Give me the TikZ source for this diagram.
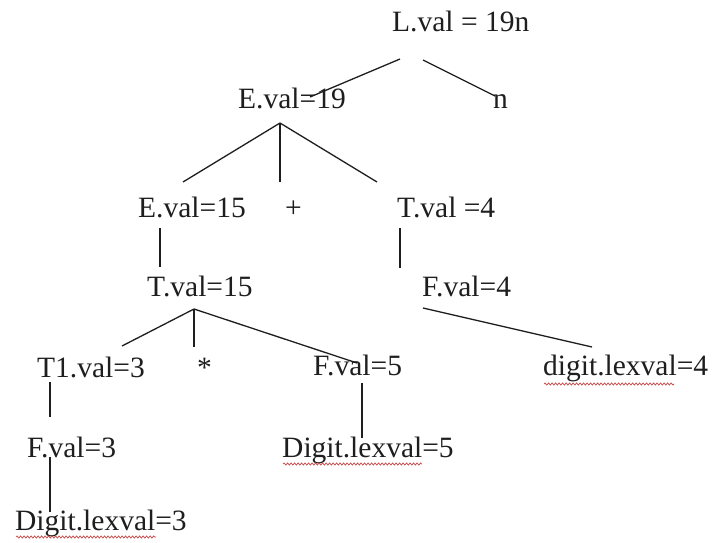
\documentclass[tikz,border=0pt]{standalone}
\usepackage{fontspec}
\setmainfont{Liberation Serif}
\usetikzlibrary{decorations.pathmorphing}
\definecolor{txt}{RGB}{30,30,30}
\definecolor{wavyred}{RGB}{200,70,70}
\begin{document}
\begin{tikzpicture}[x=1pt,y=-1pt,
  lab/.style={anchor=base west,inner sep=0pt,text=txt,font=\fontsize{29.5}{34}\selectfont},
  edge/.style={draw=txt,line width=1.3pt},
  wavy/.style={draw=wavyred,line width=0.7pt,decorate,decoration={snake,amplitude=1.1pt,segment length=3.5pt}}]
\useasboundingbox[fill=white] (0,0) rectangle (712,543);
% nodes
\node[lab] (L)   at (392,32)  {L.val = 19n};
\node[lab] (E19) at (238,108) {E.val=19};
\node[lab] (n)   at (493,108) {n};
\node[lab] (E15) at (138,217) {E.val=15};
\node[lab] (plus) at (285,217) {+};
\node[lab] (T4)  at (397,217) {T.val =4};
\node[lab] (T15) at (147,296) {T.val=15};
\node[lab] (F4)  at (422,296) {F.val=4};
\node[lab] (T1)  at (37,377)  {T1.val=3};
\node[lab] (star) at (197,377) {*};
\node[lab] (F5)  at (313,375) {F.val=5};
\node[lab] (d4)  at (543,375) {digit.lexval=4};
\node[lab] (F3)  at (27,457)  {F.val=3};
\node[lab] (D5)  at (282,457) {Digit.lexval=5};
\node[lab] (D3)  at (15,530)  {Digit.lexval=3};
% connectors
\draw[edge] ([shift={(8,27)}]L.base west) -- ([shift={(72,-11)}]E19.base west);
\draw[edge] ([shift={(31,28)}]L.base west) -- ([shift={(2,-12)}]n.base west);
\draw[edge] ([shift={(42,15)}]E19.base west) -- ([shift={(45,-35)}]E15.base west);
\draw[edge] ([shift={(42,15)}]E19.base west) -- ([shift={(-5,-35)}]plus.base west);
\draw[edge] ([shift={(42,15)}]E19.base west) -- ([shift={(-20,-35)}]T4.base west);
\draw[edge] ([shift={(22,11)}]E15.base west) -- ([shift={(13,-29)}]T15.base west);
\draw[edge] ([shift={(3,11)}]T4.base west) -- ([shift={(-22,-28)}]F4.base west);
\draw[edge] ([shift={(47,13)}]T15.base west) -- ([shift={(85,-31)}]T1.base west);
\draw[edge] ([shift={(47,13)}]T15.base west) -- ([shift={(-3,-30)}]star.base west);
\draw[edge] ([shift={(47,13)}]T15.base west) -- ([shift={(44,-12)}]F5.base west);
\draw[edge] ([shift={(1,12)}]F4.base west) -- ([shift={(49,-28)}]d4.base west);
\draw[edge] ([shift={(13,5)}]T1.base west) -- ([shift={(23,-40)}]F3.base west);
\draw[edge] ([shift={(23,0)}]F3.base west) -- ([shift={(35,-18)}]D3.base west);
\draw[edge] ([shift={(49,8)}]F5.base west) -- ([shift={(80,-19)}]D5.base west);
% spell-check underlines
\draw[wavy] ([shift={(1,7)}]D3.base west) -- ++(140,0);
\draw[wavy] ([shift={(1,7)}]D5.base west) -- ++(139,0);
\draw[wavy] ([shift={(1,9)}]d4.base west) -- ++(130,0);
\end{tikzpicture}
\end{document}
